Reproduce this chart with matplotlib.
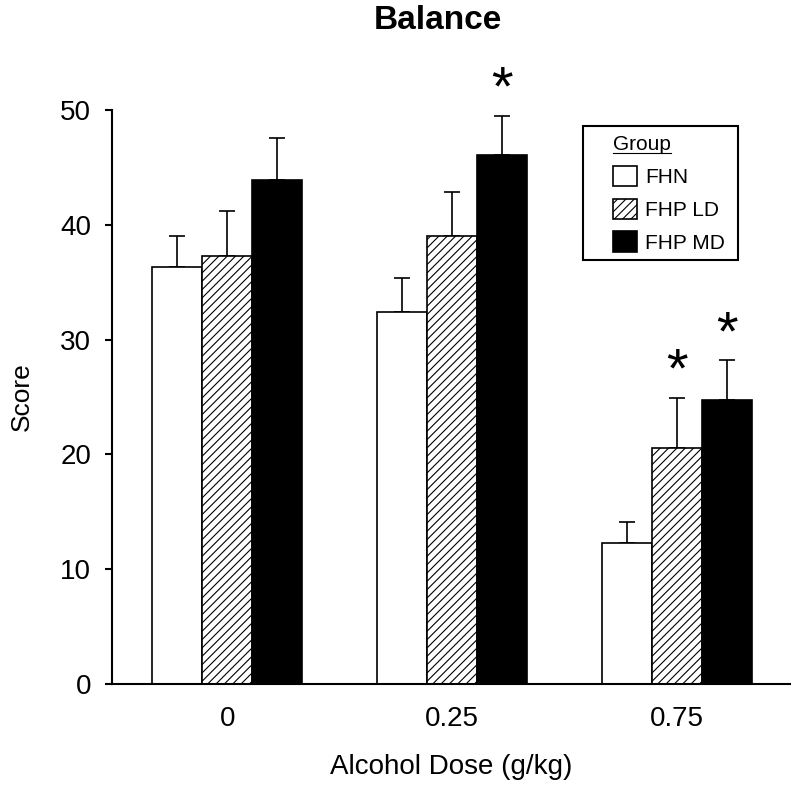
import matplotlib
matplotlib.use('Agg')
import matplotlib.pyplot as plt
import numpy as np
from matplotlib.patches import Patch, Rectangle
from matplotlib.lines import Line2D

plt.rcParams['font.family'] = ['Liberation Sans', 'DejaVu Sans']
plt.rcParams['hatch.linewidth'] = 0.8

doses = ['0', '0.25', '0.75']
groups = ['FHN', 'FHP LD', 'FHP MD']
means = {'FHN': [36.3, 32.4, 12.3],
         'FHP LD': [37.3, 39.0, 20.6],
         'FHP MD': [43.9, 46.1, 24.7]}
sems = {'FHN': [2.7, 3.0, 1.8],
        'FHP LD': [3.9, 3.9, 4.3],
        'FHP MD': [3.7, 3.4, 3.5]}
# (dose index, group) marked as significant
signif = [(1, 'FHP MD'), (2, 'FHP LD'), (2, 'FHP MD')]

styles = {'FHN': dict(facecolor='white', hatch=None),
          'FHP LD': dict(facecolor='white', hatch='////'),
          'FHP MD': dict(facecolor='black', hatch=None)}

fig = plt.figure(figsize=(8, 7.88), dpi=100)
ax = fig.add_axes([0.14, 0.132, 0.8475, 0.7284])

x = np.arange(len(doses))
w = 0.222
for i, g in enumerate(groups):
    xs = x + (i - 1) * w
    ax.bar(xs, means[g], width=w, edgecolor='black', linewidth=1.2, zorder=2, **styles[g])
    ax.errorbar(xs, np.array(means[g]), yerr=[np.zeros(3), sems[g]], fmt='none',
                ecolor='black', elinewidth=1.2, capsize=6, capthick=1.2, zorder=1)

for d, g in signif:
    i = groups.index(g)
    ax.text(x[d] + (i - 1) * w, means[g][d] + sems[g][d] + 2.2, '*',
            ha='center', va='center', fontsize=40)

ax.set_xlim(-0.512, 2.502)
ax.set_ylim(0, 50)
ax.set_yticks([0, 10, 20, 30, 40, 50])
ax.set_xticks(x)
ax.set_xticklabels(doses)
ax.tick_params(axis='x', length=0, pad=16, labelsize=20)
ax.tick_params(axis='y', direction='out', length=5, width=1.5, labelsize=20, pad=10)
for s in ['top', 'right']:
    ax.spines[s].set_visible(False)
for s in ['left', 'bottom']:
    ax.spines[s].set_linewidth(1.5)

ax.set_xlabel('Alcohol Dose (g/kg)', fontsize=20, labelpad=16)
ax.set_ylabel('Score', fontsize=19, labelpad=19)
fig.text(0.547, 0.974, 'Balance', ha='center', va='center', fontsize=24, fontweight='bold')

handles = [Patch(edgecolor='black', linewidth=1.2, **styles[g]) for g in groups]
leg = ax.legend(handles, groups, title='Group', loc='upper left',
                bbox_to_anchor=(0.739, 0.956), fontsize=15, title_fontsize=15,
                alignment='left', frameon=False, borderpad=0, borderaxespad=0,
                handlelength=1.15, handleheight=1.15, handletextpad=0.4,
                labelspacing=0.55)
ax.add_patch(Rectangle((0.695, 0.739), 0.228, 0.233, transform=ax.transAxes,
                       fill=False, edgecolor='black', linewidth=1.5, clip_on=False))

# underline the legend title
fig.canvas.draw()
bb = leg.get_title().get_window_extent()
inv = fig.transFigure.inverted()
(x0, y0), (x1, _) = inv.transform([[bb.x0, bb.y0 + 1], [bb.x1, bb.y0 + 1]])
fig.add_artist(Line2D([x0, x1], [y0, y0], color='black', linewidth=0.8))

fig.savefig('out.png', dpi=100)
